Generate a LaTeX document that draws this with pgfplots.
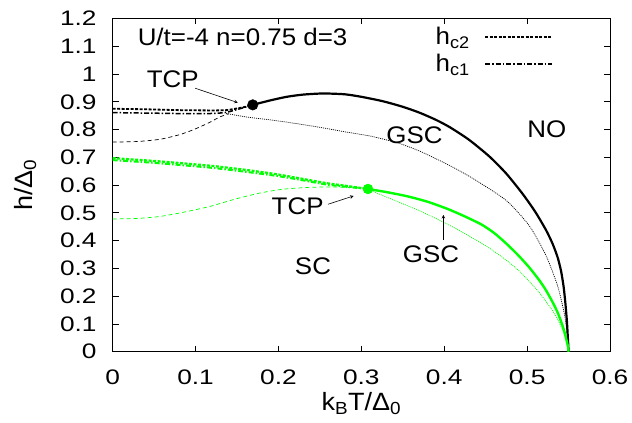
\documentclass[border=0pt]{standalone}
\usepackage{fontspec}
\setmainfont{Liberation Sans}
\newfontfamily\tickfont{Liberation Sans}[FakeStretch=1.25]
\newfontfamily\labfont{Liberation Sans}[FakeStretch=1.08]
\usepackage{pgfplots}
\pgfplotsset{compat=1.18}
\definecolor{gnugreen}{RGB}{0,255,0}

\begin{document}
\begin{tikzpicture}
\begin{axis}[
    scale only axis,
    width=497.3pt, height=333.2pt,
    xmin=0, xmax=0.6, ymin=0, ymax=1.2,
    xtick={0,0.1,0.2,0.3,0.4,0.5,0.6},
    ytick={0,0.1,0.2,0.3,0.4,0.5,0.6,0.7,0.8,0.9,1,1.1,1.2},
    tick align=inside, tick pos=both,
    major tick length=6pt,
    tick style={black, line width=0.8pt},
    axis line style={line width=1pt},
    /pgf/number format/assume math mode=true,
    /pgf/number format/fixed,
    tick label style={font=\tickfont\fontsize{21}{24}\selectfont},
    xticklabel style={inner sep=0pt, anchor=north, yshift=-18pt},
    yticklabel style={inner sep=0pt, anchor=east, xshift=-16pt},
    xlabel={k\textsubscript{B}T/Δ\textsubscript{0}},
    ylabel={h/Δ\textsubscript{0}},
    label style={font=\labfont\fontsize{25}{28}\selectfont},
    xlabel style={at={(axis description cs:0.5,-0.177)}, anchor=base},
    ylabel style={at={(axis description cs:-0.176,0.5)}, anchor=center},
    legend style={draw=none, fill=none, at={(rel axis cs:0.886,0.975)}, anchor=north east,
        font=\labfont\fontsize{24}{26}\selectfont, row sep=7pt, column sep=14pt,
        inner sep=0pt, nodes={inner sep=0.5pt}},
    legend plot pos=right, legend cell align=right,
    legend image code/.code={\draw[#1] (0pt,0pt) -- (67pt,0pt);},
    clip=false,
    every axis plot/.append style={smooth, tension=0.4},
]

% black: h_c2 (first order, left of TCP)
\addplot[black, line width=1.8pt, dash pattern=on 3pt off 1.5pt] coordinates {
    (0,0.875)(0.04,0.873)(0.08,0.870)(0.117,0.869)(0.137,0.870)(0.157,0.880)(0.169,0.889)
};
\addlegendentry{h\textsubscript{c2}}
% black: h_c1
\addplot[black, line width=1.5pt, dash pattern=on 5pt off 2pt on 1.5pt off 2pt] coordinates {
    (0,0.861)(0.05,0.859)(0.097,0.857)(0.12,0.858)(0.137,0.862)(0.157,0.878)(0.169,0.889)
};
\addlegendentry{h\textsubscript{c1}}

% black thin dashed
\addplot[black, line width=0.7pt, dash pattern=on 4pt off 3pt, forget plot] coordinates {
    (0,0.755)(0.03,0.757)(0.057,0.765)(0.08,0.781)(0.097,0.799)(0.115,0.823)(0.129,0.845)(0.14,0.857)
};
% black thin dotted (GSC)
\addplot[black, line width=0.7pt, dash pattern=on 1pt off 1pt, forget plot] coordinates {
    (0.137,0.858)(0.16,0.846)(0.19,0.835)(0.214,0.825)(0.25,0.808)(0.28,0.792)(0.31,0.777)
    (0.334,0.760)(0.35,0.746)(0.37,0.723)(0.39,0.695)(0.41,0.665)(0.4345,0.624)(0.4747,0.545)
    (0.503,0.452)(0.523,0.345)(0.537,0.235)(0.545,0.135)(0.5485,0.060)(0.55,0)
};
% black solid (second order)
\addplot[black, line width=2.2pt, forget plot] coordinates {
    (0.169,0.889)(0.19,0.905)(0.21,0.918)(0.23,0.926)(0.254,0.930)(0.28,0.927)(0.30,0.918)
    (0.326,0.902)(0.35,0.882)(0.37,0.861)(0.39,0.835)(0.407,0.808)(0.43,0.763)(0.4545,0.703)
    (0.475,0.641)(0.4947,0.568)(0.51,0.503)(0.523,0.437)(0.531,0.387)(0.537,0.338)
    (0.541,0.290)(0.544,0.235)(0.546,0.180)(0.548,0.110)(0.549,0.058)(0.5497,0.022)(0.55,0)
};

% green: h_c2
\addplot[gnugreen, line width=2.2pt, dash pattern=on 3pt off 1.5pt, forget plot] coordinates {
    (0,0.697)(0.05,0.687)(0.117,0.670)(0.16,0.655)(0.198,0.639)(0.23,0.622)(0.258,0.607)(0.285,0.596)(0.308,0.586)
};
% green: h_c1
\addplot[gnugreen, line width=2pt, dash pattern=on 5pt off 2pt on 1.5pt off 2pt, forget plot] coordinates {
    (0,0.690)(0.05,0.680)(0.117,0.663)(0.16,0.648)(0.198,0.633)(0.23,0.617)(0.258,0.602)(0.285,0.593)(0.308,0.586)
};
% green thin dashed
\addplot[gnugreen, line width=0.7pt, dash pattern=on 4pt off 3pt, forget plot] coordinates {
    (0,0.478)(0.03,0.480)(0.057,0.487)(0.085,0.502)(0.117,0.523)(0.147,0.549)(0.177,0.571)
    (0.205,0.585)(0.238,0.592)(0.27,0.593)(0.308,0.589)
};
% green thin dotted (GSC)
\addplot[gnugreen, line width=0.7pt, dash pattern=on 1pt off 1pt, forget plot] coordinates {
    (0.308,0.586)(0.322,0.567)(0.345,0.539)(0.37,0.508)(0.394,0.474)(0.415,0.442)(0.4345,0.409)
    (0.455,0.372)(0.4747,0.330)(0.49,0.292)(0.503,0.252)(0.515,0.212)(0.523,0.180)(0.531,0.146)
    (0.537,0.115)(0.542,0.084)(0.5455,0.056)(0.548,0.030)(0.55,0)
};
% green solid
\addplot[gnugreen, line width=2.4pt, forget plot] coordinates {
    (0.308,0.586)(0.33,0.575)(0.355,0.560)(0.38,0.540)(0.405,0.513)(0.425,0.487)(0.445,0.458)
    (0.46,0.428)(0.4747,0.390)(0.49,0.345)(0.503,0.302)(0.515,0.256)(0.523,0.220)(0.531,0.177)
    (0.537,0.140)(0.542,0.100)(0.545,0.072)(0.548,0.036)(0.5495,0.015)(0.55,0)
};

% tricritical points
\addplot[only marks, mark=*, mark size=5.3pt, black, forget plot] coordinates {(0.169,0.889)};
\addplot[only marks, mark=*, mark size=5pt, gnugreen, forget plot] coordinates {(0.308,0.586)};

% annotations
\begin{scope}[font=\labfont\fontsize{24}{26}\selectfont, inner sep=0pt]
\node[anchor=base west] at (axis cs:0.030,1.103) {U/t=-4 n=0.75 d=3};
\node[anchor=base west] at (axis cs:0.041,0.953) {TCP};
\node[anchor=base west] at (axis cs:0.330,0.751) {GSC};
\node[anchor=base west] at (axis cs:0.500,0.773) {NO};
\node[anchor=base west] at (axis cs:0.1916,0.4926) {TCP};
\node[anchor=base west] at (axis cs:0.350,0.322) {GSC};
\node[anchor=base west] at (axis cs:0.2197,0.2764) {SC};
\end{scope}
\draw[-stealth, line width=0.6pt] (axis cs:0.0994,0.949) -- (axis cs:0.151,0.897);
\draw[-stealth, line width=0.6pt] (axis cs:0.2597,0.531) -- (axis cs:0.2907,0.561);
\draw[-stealth, line width=0.6pt] (axis cs:0.399,0.4025) -- (axis cs:0.399,0.4926);

\end{axis}
\pgfresetboundingbox
\path ([shift={(-112.7pt,-71.3pt)}]current axis.south west) rectangle ([shift={(22pt,18.5pt)}]current axis.north east);
\end{tikzpicture}
\end{document}
